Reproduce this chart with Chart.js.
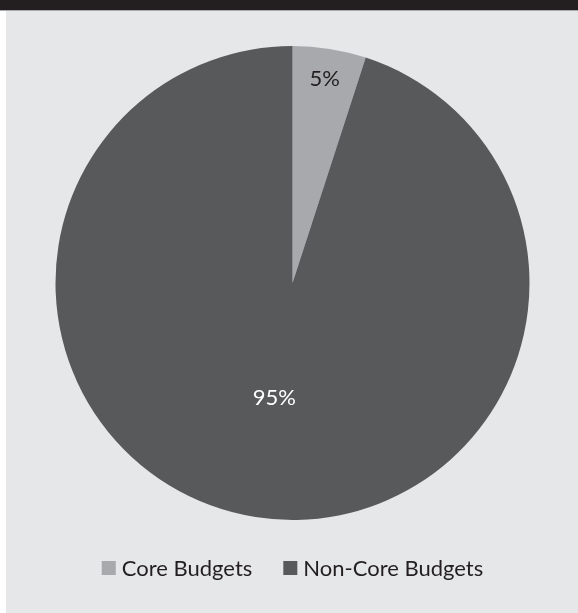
<!DOCTYPE html>
<html>
<head>
<meta charset="utf-8">
<script src="https://cdn.jsdelivr.net/npm/chart.js@4.4.1/dist/chart.umd.min.js"></script>
<style>
  html, body { margin: 0; padding: 0; background: #ffffff; }
  #frame { position: relative; width: 578px; height: 613px; overflow: hidden; }
  #panel { position: absolute; left: 6px; top: 0; width: 572px; height: 613px; background: #e6e7e8; }
  #band { position: absolute; left: 0; top: 0; width: 578px; height: 10px; background: #231f20; border-bottom: 1px solid #a7a9ac; z-index: 2; }
  #wrap { position: absolute; left: 0; top: 0; width: 578px; height: 613px; z-index: 1; }
</style>
</head>
<body>
<div id="frame">
  <div id="panel"></div>
  <div id="wrap"><canvas id="chart"></canvas></div>
  <div id="band"></div>
</div>
<script>
// Budget split
const categories = ['Core Budgets', 'Non-Core Budgets'];
const shares = [5, 95];
const sliceColors = ['#a7a9ac', '#58595b'];
const labelColors = ['#231f20', '#ffffff'];

const FONT = 'Lato, "Open Sans", sans-serif';

// Writes each slice's percentage inside the slice
const sliceLabels = {
  id: 'sliceLabels',
  afterDatasetsDraw(chart, args, opts) {
    const ctx = chart.ctx;
    const meta = chart.getDatasetMeta(0);
    meta.data.forEach((arc, i) => {
      const p = arc.getProps(['x', 'y', 'startAngle', 'endAngle', 'outerRadius'], true);
      const mid = (p.startAngle + p.endAngle) / 2;
      const r = p.outerRadius * opts.radialPos[i];
      ctx.save();
      ctx.font = '22px ' + FONT;
      ctx.fillStyle = labelColors[i];
      ctx.textAlign = 'center';
      ctx.textBaseline = 'middle';
      ctx.fillText(shares[i] + '%', p.x + Math.cos(mid) * r, p.y + Math.sin(mid) * r);
      ctx.restore();
    });
  }
};

// Compact legend row under the pie: square swatch, small gap, label
const legendRow = {
  id: 'legendRow',
  afterDraw(chart, args, opts) {
    const ctx = chart.ctx;
    ctx.save();
    ctx.font = opts.fontSize + 'px ' + FONT;
    ctx.textBaseline = 'middle';
    ctx.textAlign = 'left';
    const widths = categories.map(c => opts.box + opts.textGap + ctx.measureText(c).width);
    const total = widths.reduce((a, b) => a + b, 0) + opts.itemGap * (categories.length - 1);
    let x = chart.chartArea.left + (chart.chartArea.right - chart.chartArea.left - total) / 2;
    const y = opts.y;
    categories.forEach((c, i) => {
      ctx.fillStyle = sliceColors[i];
      ctx.fillRect(x, y - opts.box / 2, opts.box, opts.box);
      ctx.fillStyle = '#231f20';
      ctx.fillText(c, x + opts.box + opts.textGap, y + 1);
      x += widths[i] + opts.itemGap;
    });
    ctx.restore();
  }
};

new Chart(document.getElementById('chart'), {
  type: 'pie',
  data: {
    labels: categories,
    datasets: [{
      data: shares,
      backgroundColor: sliceColors,
      borderWidth: 0,
      radius: 237
    }]
  },
  options: {
    responsive: true,
    maintainAspectRatio: false,
    animation: false,
    layout: { padding: { top: 19, bottom: 66, left: 7, right: 0 } },
    plugins: {
      tooltip: { enabled: false },
      legend: { display: false },
      sliceLabels: { radialPos: [0.87, 0.49] },
      legendRow: { y: 568, box: 14, textGap: 6, itemGap: 31, fontSize: 22 }
    }
  },
  plugins: [sliceLabels, legendRow]
});
</script>
</body>
</html>
